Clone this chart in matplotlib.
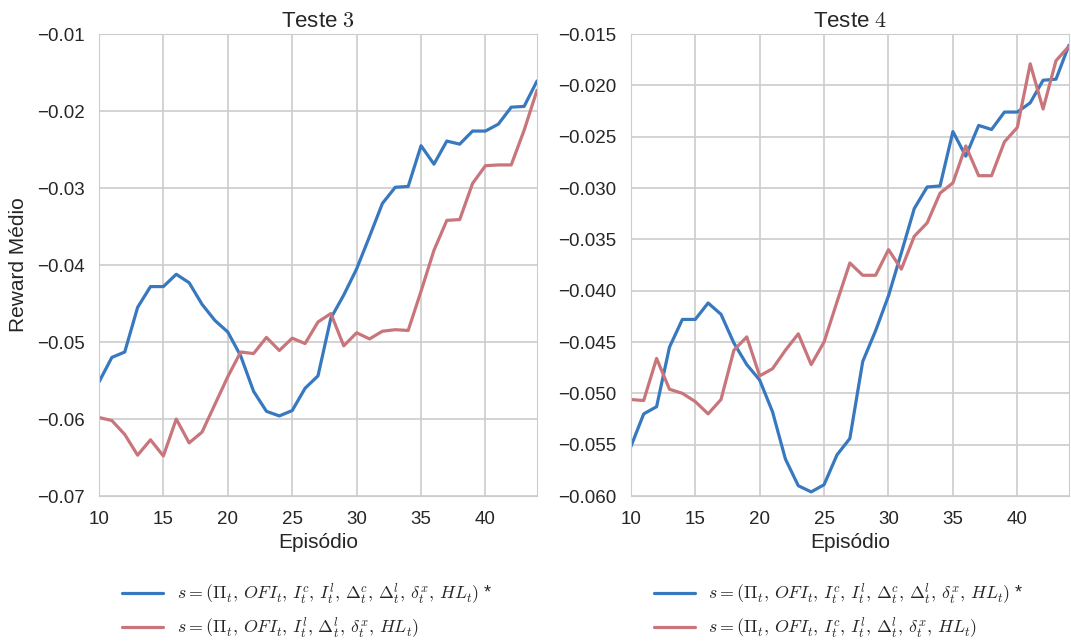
import matplotlib
matplotlib.use("Agg")
import matplotlib.pyplot as plt
import seaborn as sns
from matplotlib.ticker import FormatStrFormatter, MultipleLocator

episodes = list(range(10, 45))

blue_full = [-0.0552, -0.0520, -0.0513, -0.0455, -0.0428, -0.0428, -0.0412, -0.0423,
             -0.0451, -0.0472, -0.0487, -0.0518, -0.0564, -0.0590, -0.0596, -0.0589,
             -0.0560, -0.0544, -0.0469, -0.0439, -0.0405, -0.0363, -0.0320, -0.0299,
             -0.0298, -0.0245, -0.0269, -0.0239, -0.0243, -0.0226, -0.0226, -0.0217,
             -0.0195, -0.0194, -0.0161]

red_t3 = [-0.0598, -0.0602, -0.0620, -0.0647, -0.0627, -0.0648, -0.0600, -0.0631,
          -0.0617, -0.0581, -0.0545, -0.0513, -0.0515, -0.0494, -0.0511, -0.0495,
          -0.0502, -0.0474, -0.0463, -0.0505, -0.0488, -0.0496, -0.0486, -0.0484,
          -0.0485, -0.0434, -0.0381, -0.0342, -0.0341, -0.0294, -0.0271, -0.0270,
          -0.0270, -0.0225, -0.0173]

red_t4 = [-0.0506, -0.0507, -0.0466, -0.0496, -0.0500, -0.0508, -0.0520, -0.0506,
          -0.0458, -0.0445, -0.0483, -0.0476, -0.0458, -0.0442, -0.0472, -0.0450,
          -0.0411, -0.0373, -0.0385, -0.0385, -0.0360, -0.0379, -0.0347, -0.0334,
          -0.0305, -0.0295, -0.0259, -0.0288, -0.0288, -0.0255, -0.0241, -0.0179,
          -0.0223, -0.0176, -0.0162]

titles = [r"Teste $3$", r"Teste $4$"]
label_blue = r"$s = (\Pi_t,\, OFI_t,\, I^c_t,\, I^l_t,\, \Delta^c_t,\, \Delta^l_t,\, \delta^x_t,\, HL_t)$ *"
label_red3 = r"$s = (\Pi_t,\, OFI_t,\, I^l_t,\, \Delta^l_t,\, \delta^x_t,\, HL_t)$"
label_red4 = r"$s = (\Pi_t,\, OFI_t,\, I^c_t,\, I^l_t,\, \Delta^l_t,\, \delta^x_t,\, HL_t)$"

sns.set_style("whitegrid")
plt.rcParams['font.family'] = ['Liberation Sans', 'DejaVu Sans']
plt.rcParams['mathtext.fontset'] = 'cm'

BLUE = "#3778bf"
RED = "#c8757b"

fig = plt.figure(figsize=(10.71, 6.41), dpi=100)
ax1 = fig.add_axes([0.0924, 0.2262, 0.409, 0.7207])
ax2 = fig.add_axes([0.589, 0.2262, 0.409, 0.7207])

for ax, red, title, rlab in [(ax1, red_t3, titles[0], label_red3),
                             (ax2, red_t4, titles[1], label_red4)]:
    ax.plot(episodes, blue_full, color=BLUE, lw=2.3, label=label_blue)
    ax.plot(episodes, red, color=RED, lw=2.3, label=rlab)
    ax.set_xlim(10, 44)
    ax.xaxis.set_major_locator(MultipleLocator(5))
    ax.set_title(title, fontsize=16, pad=5)
    ax.set_xlabel("Episódio", fontsize=15, labelpad=4)
    ax.tick_params(labelsize=13.5, pad=7)
    for s in ax.spines.values():
        s.set_color("#cccccc")
    ax.grid(color="#cccccc", lw=1.2)
    ax.legend(loc="upper center", bbox_to_anchor=(0.475, -0.15), frameon=False,
              fontsize=12.9, handlelength=2.3, handletextpad=0.75, labelspacing=0.5)

ax1.set_ylim(-0.07, -0.01)
ax1.yaxis.set_major_locator(MultipleLocator(0.01))
ax1.yaxis.set_major_formatter(FormatStrFormatter("%.2f"))
ax1.set_ylabel("Reward Médio", fontsize=15, labelpad=6)

ax2.set_ylim(-0.060, -0.015)
ax2.yaxis.set_major_locator(MultipleLocator(0.005))
ax2.yaxis.set_major_formatter(FormatStrFormatter("%.3f"))

for ax in (ax1, ax2):
    ax.set_yticklabels([t.get_text().replace("-", "\u2212") for t in ax.get_yticklabels()])

fig.savefig("out.png", dpi=100)
